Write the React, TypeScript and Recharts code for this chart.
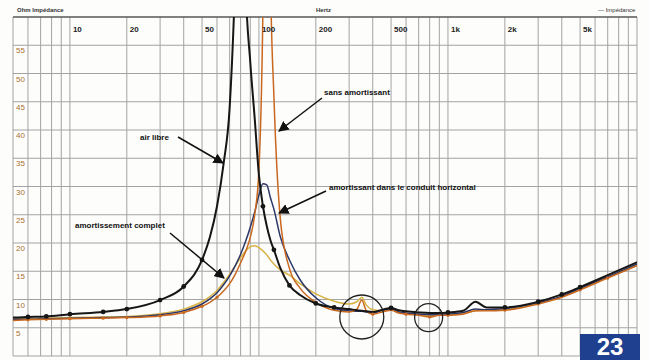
import { LineChart, Line, XAxis, YAxis, CartesianGrid, ReferenceDot, ReferenceLine } from 'recharts';

// fréquences (Hz) communes aux quatre courbes
const freqs = [
  5, 6, 7.5, 10, 15, 20, 30, 40, 50, 55, 60, 65, 70, 75, 80, 85, 90, 95, 100, 105, 110, 115, 120, 130,
  145, 165, 200, 250, 300, 330, 350, 370, 400, 450, 500, 550, 600, 700, 800, 900, 1000, 1200, 1400,
  1600, 2000, 3000, 4000, 5000, 7000, 10000
];

// impédance (ohms)
const airLibre = [
  6.8, 6.9, 7.0, 7.4, 7.8, 8.3, 9.9, 12.3, 17, 21, 26.5, 34, 44, 68, 110, 66, 52, 42, 32, 26.5, 23, 20.5,
  18.8, 15.5, 12.5, 10.8, 9.3, 8.6, 8.3, 8.1, 8.0, 7.9, 7.8, 8.2, 8.5, 8.1, 7.9, 7.7, 7.6, 7.6, 7.7, 8.0,
  9.6, 8.6, 8.6, 9.6, 10.9, 12.2, 14.3, 16.6
];
const sansAmortissant = [
  6.3, 6.4, 6.5, 6.6, 6.7, 6.8, 7.1, 7.7, 8.8, 9.5, 10.4, 11.5, 12.8, 14.5, 16.5, 18.5, 21, 25, 33, 62,
  140, 68, 46, 24, 15.5, 12, 9.5, 8.1, 7.8, 8.3, 9.9, 8.0, 7.4, 7.8, 8.1, 7.6, 7.4, 7.2, 6.9, 7.2, 7.2,
  7.4, 8.0, 8.0, 8.1, 9.2, 10.4, 11.7, 13.8, 16.0
];
const amortConduit = [
  6.5, 6.5, 6.6, 6.7, 6.8, 6.9, 7.3, 8.0, 9.2, 10.1, 11.2, 12.6, 14.2, 16, 18, 20.3, 22.8, 25.5, 28.5,
  30.5, 30.3, 28, 26, 21, 17, 13.5, 10.3, 8.4, 8.0, 7.9, 7.9, 7.8, 7.6, 8.1, 8.3, 7.8, 7.6, 7.4, 7.3,
  7.3, 7.4, 7.7, 8.3, 8.2, 8.4, 9.4, 10.6, 12.0, 14.0, 16.3
];
const amortComplet = [
  6.6, 6.6, 6.7, 6.8, 6.9, 7.0, 7.5, 8.3, 9.6, 10.5, 11.6, 13, 14.5, 16, 17.4, 18.6, 19.3, 19.5, 19.2,
  18.6, 17.9, 17, 16.3, 15.2, 14.3, 12.8, 11, 9.7, 9.2, 9.6, 10.4, 9.0, 8.2, 8.0, 8.2, 7.7, 7.5, 7.3,
  7.1, 7.3, 7.3, 7.5, 8.0, 8.1, 8.2, 9.3, 10.5, 11.8, 13.9, 16.1
];

const airMarkers = [6, 7.5, 10, 15, 20, 30, 40, 50, 105, 120, 145, 200, 250, 500, 1000, 2000, 3000, 4000, 5000];
const sansMarkers = [6, 7.5, 10, 15, 20, 30, 40, 50, 60, 200, 400, 600, 800, 1000, 2000, 3000, 5000, 7000];

const gridFreqs = [
  5, 6, 7, 8, 9, 10, 20, 30, 40, 50, 60, 70, 80, 90, 100, 200, 300, 400, 500, 600, 700, 800, 900,
  1000, 2000, 3000, 4000, 5000, 6000, 7000, 8000, 9000
];
const labelFreqs = [10, 20, 50, 100, 200, 500, 1000, 2000, 5000];
const labelTexts = ['10', '20', '50', '100', '200', '500', '1k', '2k', '5k'];
const ohmTicks = [5, 10, 15, 20, 25, 30, 35, 40, 45, 50, 55, 60];

const data = freqs.map((f, i) => ({
  f,
  air: airLibre[i],
  sans: sansAmortissant[i],
  conduit: amortConduit[i],
  complet: amortComplet[i]
}));

const W = 650;
const H = 360;
const margin = { top: 16, right: 13, bottom: 4, left: 12 };
const PLOT_TOP = 17;
const PLOT_LEFT = 13;

const renderFreqTick = (props: any) => {
  const i = labelFreqs.indexOf(props.payload.value);
  if (i < 0) return <g key={props.index} />;
  return (
    <text
      key={props.index}
      x={props.x + 3}
      y={PLOT_TOP + 15}
      fontSize={8}
      fontWeight="bold"
      fill="#222"
      fontFamily="Liberation Sans, Arial"
    >
      {labelTexts[i]}
    </text>
  );
};

const renderOhmTick = (props: any) => {
  const v = props.payload.value;
  if (v >= 60) return <g key={props.index} />;
  return (
    <text key={props.index} x={PLOT_LEFT + 3} y={props.y + 8} fontSize={8} fill="#a8702e" fontFamily="Liberation Sans, Arial">
      {v}
    </text>
  );
};

const markerDot = (list: number[], color: string, r: number) => (props: any) => {
  const { cx, cy, payload, index } = props;
  if (!list.includes(payload.f)) return <g key={index} />;
  return <circle key={index} cx={cx} cy={cy} r={r} fill={color} />;
};

const labelStyle = { fontSize: 8, fontWeight: 'bold' as const, fill: '#111', fontFamily: 'Liberation Sans, Arial' };

export default function App() {
  return (
    <div style={{ position: 'absolute', left: 0, top: 0, width: W, height: H, background: '#fdfdfc', overflow: 'hidden' }}>
      <LineChart width={W} height={H} data={data} margin={margin}>
        <CartesianGrid stroke="#a3a3a3" strokeWidth={1} />
        <XAxis
          dataKey="f"
          type="number"
          scale="log"
          domain={[5, 10000]}
          ticks={gridFreqs}
          interval={0}
          orientation="top"
          height={1}
          axisLine={false}
          tickLine={false}
          allowDataOverflow
          tick={renderFreqTick}
        />
        <YAxis
          type="number"
          domain={[0, 60]}
          ticks={ohmTicks}
          interval={0}
          width={1}
          axisLine={false}
          tickLine={false}
          allowDataOverflow
          tick={renderOhmTick}
        />
        <ReferenceLine y={60} stroke="#333" strokeWidth={1.2} />
        <Line type="monotone" dataKey="complet" stroke="#d8b447" strokeWidth={1.5} dot={false} isAnimationActive={false} />
        <Line type="monotone" dataKey="conduit" stroke="#2c3768" strokeWidth={1.5} dot={false} isAnimationActive={false} />
        <Line
          type="monotone"
          dataKey="sans"
          stroke="#c9681f"
          strokeWidth={1.5}
          dot={markerDot(sansMarkers, '#c9681f', 1.6)}
          isAnimationActive={false}
        />
        <Line
          type="monotone"
          dataKey="air"
          stroke="#161616"
          strokeWidth={2}
          dot={markerDot(airMarkers, '#161616', 2.4)}
          isAnimationActive={false}
        />
        <ReferenceDot x={350} y={6.9} r={22} fill="none" stroke="#222" strokeWidth={1.3} />
        <ReferenceDot x={790} y={6.8} r={14} fill="none" stroke="#222" strokeWidth={1.3} />
      </LineChart>

      <svg width={W} height={H} style={{ position: 'absolute', left: 0, top: 0, pointerEvents: 'none' }}>
        <defs>
          <marker id="head" viewBox="0 0 10 10" refX="9" refY="5" markerWidth="7" markerHeight="7" orient="auto">
            <path d="M0,0 L10,5 L0,10 z" fill="#111" />
          </marker>
        </defs>
        <text x={17} y={12} fontSize={6} fontWeight="bold" fill="#333" fontFamily="Liberation Sans, Arial">Ohm Impédance</text>
        <text x={316} y={12} fontSize={6} fontWeight="bold" fill="#333" fontFamily="Liberation Sans, Arial">Hertz</text>
        <text x={598} y={12} fontSize={6} fill="#333" fontFamily="Liberation Sans, Arial">— Impédance</text>

        <text x={140} y={140} {...labelStyle}>air libre</text>
        <line x1={178} y1={137} x2={223} y2={163} stroke="#111" strokeWidth={1.5} markerEnd="url(#head)" />

        <text x={324} y={95} {...labelStyle}>sans amortissant</text>
        <line x1={322} y1={98} x2={279} y2={131} stroke="#111" strokeWidth={1.5} markerEnd="url(#head)" />

        <text x={329} y={190} {...labelStyle}>amortissant dans le conduit horizontal</text>
        <line x1={326} y1={191} x2={279} y2={213} stroke="#111" strokeWidth={1.5} markerEnd="url(#head)" />

        <text x={75} y={228} {...labelStyle}>amortissement complet</text>
        <line x1={170} y1={233} x2={224} y2={278} stroke="#111" strokeWidth={1.5} markerEnd="url(#head)" />
      </svg>

      <div
        style={{
          position: 'absolute',
          left: 580,
          top: 334,
          width: 60,
          height: 26,
          background: '#1f3f8f',
          color: '#fff',
          fontFamily: 'Liberation Sans, Arial',
          fontWeight: 'bold',
          fontSize: 24,
          lineHeight: '26px',
          textAlign: 'center'
        }}
      >
        23
      </div>
    </div>
  );
}
